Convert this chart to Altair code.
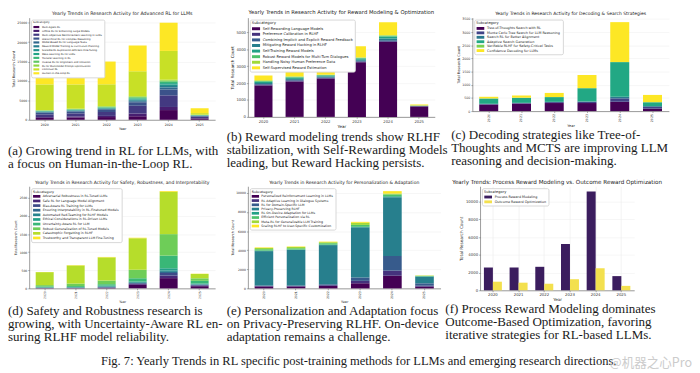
import altair as alt
import pandas as pd

YEARS = ["2020", "2021", "2022", "2023", "2024", "2025"]

A_TITLE = "Yearly Trends in Research Activity for Advanced RL for LLMs"
A_CATS = [
    "Multi-Agent RL",
    "Offline RL for Enhancing Large Models",
    "Multi-Objective Reinforcement Learning in LLMs",
    "Hierarchical RL for Complex Reasoning",
    "Model-Based RL for Language Tasks",
    "Reward Model Training & Curriculum Planning",
    "Scalable RL Exploration-Efficient Fine-Tuning",
    "Meta-Learning RL for LLMs",
    "Transfer Learning in RL",
    "Inverse RL for Alignment and Imitation",
    "RL for Multimodal Prompt Optimization",
    "Continual RL",
    "Human-in-the-Loop RL",
]
A_VALUES = [
    [500, 600, 700, 900, 2500, 300],
    [200, 250, 300, 700, 800, 150],
    [700, 800, 1000, 2000, 3000, 350],
    [400, 450, 550, 900, 1500, 150],
    [150, 160, 200, 300, 500, 60],
    [100, 110, 130, 200, 400, 50],
    [100, 110, 130, 250, 400, 50],
    [80, 90, 100, 200, 350, 40],
    [90, 100, 120, 250, 350, 50],
    [80, 90, 110, 180, 270, 40],
    [70, 100, 175, 150, 240, 80],
    [6640, 6250, 5625, 6480, 7420, 400],
    [4690, 5390, 5860, 6640, 7270, 1250],
]

B_TITLE = "Yearly Trends in Research Activity for Reward Modeling & Optimization"
B_CATS = [
    "Self-Rewarding Language Models",
    "Preference Calibration in RLHF",
    "Combining Implicit and Explicit Reward Feedback",
    "Mitigating Reward Hacking in RLHF",
    "Self-Training Reward Models",
    "Robust Reward Models for Multi-Turn Dialogues",
    "Handling Noisy Human Preference Data",
    "Self-Supervised Reward Estimation",
]
B_VALUES = [
    [1860, 2093, 2267, 3236, 4438, 620],
    [40, 50, 40, 40, 50, 10],
    [50, 50, 40, 50, 60, 10],
    [60, 60, 50, 60, 90, 10],
    [70, 80, 60, 80, 120, 15],
    [50, 40, 30, 40, 60, 10],
    [40, 30, 12, 20, 27, 5],
    [290, 465, 407, 660, 756, 56],
]

C_TITLE = "Yearly Trends in Research Activity for Decoding & Search Strategies"
C_CATS = [
    "Tree-of-Thoughts Search with RL",
    "Monte Carlo Tree Search for LLM Reasoning",
    "Search RL for Better Alignment",
    "Adaptive Search Generation",
    "Verifiable RLHF for Safety-Critical Tasks",
    "Confidence Decoding for LLMs",
]
C_VALUES = [
    [248, 284, 307, 307, 355, 95],
    [20, 20, 35, 47, 130, 70],
    [10, 10, 10, 15, 60, 30],
    [200, 190, 180, 500, 1316, 140],
    [6, 6, 5, 6, 6, 8],
    [60, 83, 154, 496, 1513, 272],
]

D_TITLE = "Yearly Trends in Research Activity for Safety, Robustness, and Interpretability"
D_CATS = [
    "Adversarial Robustness in RL-Tuned LLMs",
    "Safe RL for Language Model Alignment",
    "Bias-Aware RL Training for LLMs",
    "Ensuring Interpretability in RL-Finetuned Models",
    "Automated Red-Teaming for RLHF Models",
    "Ethical Considerations in RL-Driven LLMs",
    "Uncertainty-Aware RL for LLM",
    "Robust Generalization of RL-Tuned Models",
    "Catastrophic Forgetting in RLHF",
    "Trustworthy and Transparent LLM Fine-Tuning",
]
D_VALUES = [
    [5, 5, 10, 100, 283, 60],
    [5, 5, 10, 20, 70, 20],
    [5, 5, 10, 20, 72, 14],
    [5, 5, 10, 10, 30, 10],
    [5, 8, 15, 17, 40, 10],
    [10, 10, 20, 20, 60, 20],
    [20, 25, 40, 94, 349, 74],
    [35, 69, 100, 236, 594, 70],
    [358, 500, 641, 870, 1171, 120],
    [5, 10, 12, 9, 20, 7],
]

E_TITLE = "Yearly Trends in Research Activity for Personalization & Adaptation"
E_CATS = [
    "Personalized Reinforcement Learning in LLMs",
    "RL Adaptive Learning in Dialogue Systems",
    "RL for Domain-Specific LLM",
    "Privacy-Preserving RLHF",
    "RL On-Device Adaptation for LLMs",
    "Efficient Personalization via RL",
    "Meta-RL for Generalizable LLM Training",
    "Scaling RLHF to User-Specific Customization",
]
E_VALUES = [
    [200, 200, 250, 536, 1321, 179],
    [50, 50, 80, 250, 536, 100],
    [50, 60, 100, 357, 1536, 250],
    [3600, 3700, 4100, 5250, 6150, 700],
    [50, 50, 50, 50, 100, 30],
    [150, 150, 150, 200, 200, 50],
    [126, 123, 103, 221, 85, 28],
    [60, 60, 60, 100, 250, 20],
]

F_TITLE = "Yearly Trends: Process Reward Modeling vs. Outcome Reward Optimization"
F_CATS = ["Process Reward Modeling", "Outcome Reward Optimization"]
F_VALUES = [
    [2570, 2560, 2650, 5220, 11150, 1600],
    [970, 860, 740, 1250, 2500, 500],
]

CAP_A = ["(a) Growing trend in RL for LLMs, with", "a focus on Human-in-the-Loop RL."]
CAP_B = ["(b) Reward modeling trends show RLHF", "stabilization, with Self-Rewarding Models",
         "leading, but Reward Hacking persists."]
CAP_C = ["(c) Decoding strategies like Tree-of-", "Thoughts and MCTS are improving LLM",
         "reasoning and decision-making."]
CAP_D = ["(d) Safety and Robustness research is", "growing, with Uncertainty-Aware RL en-",
         "suring RLHF model reliability."]
CAP_E = ["(e) Personalization and Adaptation focus", "on Privacy-Preserving RLHF. On-device",
         "adaptation remains a challenge."]
CAP_F = ["(f) Process Reward Modeling dominates", "Outcome-Based Optimization, favoring",
         "iterative strategies for RL-based LLMs."]
FIG_CAPTION = "Fig. 7: Yearly Trends in RL specific post-training methods for LLMs and emerging research directions."
WATERMARK = "@机器之心Pro"

VIRIDIS_STOPS = ["#440154", "#482475", "#414487", "#355f8d", "#2a788e", "#21918c",
                 "#22a884", "#44bf70", "#7ad151", "#bddf26", "#fde725"]


def viridis(n):
    def hx(c):
        return [int(c[i:i + 2], 16) for i in (1, 3, 5)]
    out = []
    for k in range(n):
        t = k / (n - 1) if n > 1 else 0
        p = t * (len(VIRIDIS_STOPS) - 1)
        i = min(int(p), len(VIRIDIS_STOPS) - 2)
        f = p - i
        a, b = hx(VIRIDIS_STOPS[i]), hx(VIRIDIS_STOPS[i + 1])
        out.append("#%02x%02x%02x" % tuple(round(a[j] + (b[j] - a[j]) * f) for j in range(3)))
    return out


SANS = "DejaVu Sans"
SERIF = "Liberation Serif"
RECT = "M-3,-0.7L0.8,-0.7L0.8,0.7L-3,0.7Z"


def indep(c):
    return c.resolve_scale(color="independent").resolve_legend(color="independent")


def to_df(cats, values, key):
    rows = []
    for i, c in enumerate(cats):
        for j, yr in enumerate(YEARS):
            rows.append({"Year_" + key: yr, "Sub_" + key: c, "count_" + key: values[i][j], "idx": i})
    return pd.DataFrame(rows)


def axes(s, ymax, step, rotate, xgrid=False):
    xa = alt.Axis(title="Year", labelAngle=270 if rotate else 0, labelFontSize=4 * s,
                  titleFontSize=4.4 * s, labelFont=SANS, titleFont=SANS, titleFontWeight="normal",
                  tickSize=1.5, labelPadding=1, titlePadding=1.5, domainColor="#555",
                  tickColor="#555", labelColor="#333", titleColor="#222", domainWidth=0.6,
                  tickWidth=0.5, grid=xgrid, gridColor="#e6e6e6", gridWidth=0.5, bandPosition=0.5)
    ya = alt.Axis(title="Total Research Count", values=list(range(0, ymax + 1, step)), format="d",
                  labelFontSize=4 * s, titleFontSize=4.4 * s, labelFont=SANS, titleFont=SANS,
                  titleFontWeight="normal", tickSize=1.5, labelPadding=1, titlePadding=1.5,
                  domainColor="#555", tickColor="#555", labelColor="#333", titleColor="#222",
                  domainWidth=0.6, tickWidth=0.5, grid=True, gridColor="#ececec", gridWidth=0.5)
    return xa, ya


def legend(fs, rp, sym):
    return alt.Legend(title="Subcategory", orient="top-left", offset=2, padding=2,
                      titleFontSize=fs * 1.05, labelFontSize=fs, titleFont=SANS, labelFont=SANS,
                      titleFontWeight="normal", titlePadding=1,
                      symbolType=RECT, symbolSize=sym * sym, symbolStrokeWidth=0,
                      symbolOffset=sym, rowPadding=rp, labelOffset=2, fillColor="white",
                      strokeColor="#d6d6d6", cornerRadius=1.5,
                      labelColor="#222", titleColor="#222")


def title_params(text, fs):
    return alt.TitleParams(text, fontSize=fs, font=SANS, fontWeight="normal", color="#222",
                           offset=2, frame="group")


def stacked(key, title, tfs, cats, values, ymax, step, dmax, w, h, s, rotate, lfs, lrp, sym):
    df = to_df(cats, values, key)
    xa, ya = axes(s, ymax, step, rotate)
    return alt.Chart(df).mark_bar().encode(
        x=alt.X("Year_%s:N" % key, sort=YEARS, scale=alt.Scale(paddingInner=0.42, paddingOuter=0.21), axis=xa),
        y=alt.Y("sum(count_%s):Q" % key, stack="zero", scale=alt.Scale(domain=[0, dmax], nice=False), axis=ya),
        color=alt.Color("Sub_%s:N" % key, sort=cats,
                        scale=alt.Scale(domain=cats, range=viridis(len(cats))),
                        legend=legend(lfs, lrp, sym)),
        order=alt.Order("idx:Q", sort="ascending"),
    ).properties(width=w, height=h, title=title_params(title, tfs))


def grouped(key, title, tfs, cats, values, ymax, step, dmax, w, h, s, lfs, lrp, sym):
    df = to_df(cats, values, key)
    xa, ya = axes(s, ymax, step, False, xgrid=True)
    return alt.Chart(df).mark_bar().encode(
        x=alt.X("Year_%s:N" % key, sort=YEARS, scale=alt.Scale(paddingInner=0.3, paddingOuter=0.15), axis=xa),
        xOffset=alt.XOffset("Sub_%s:N" % key, sort=cats),
        y=alt.Y("count_%s:Q" % key, scale=alt.Scale(domain=[0, dmax], nice=False), axis=ya),
        color=alt.Color("Sub_%s:N" % key, sort=cats,
                        scale=alt.Scale(domain=cats, range=["#3b1d5e", "#f3e04e"]),
                        legend=legend(lfs, lrp, sym)),
    ).properties(width=w, height=h, title=title_params(title, tfs))


LH = 13.3
CW = 224


def caption(key, lines, indent):
    df = pd.DataFrame({"cap_" + key: ["\n".join(lines)]})
    text = alt.Chart(df).mark_text(lineBreak="\n", align="left", baseline="top", font=SERIF,
                                   fontSize=13.5, lineHeight=LH, color="#1a1a1a").encode(
        x=alt.value(-indent), y=alt.value((3 - len(lines)) * LH), text="cap_%s:N" % key)
    spacer = alt.Chart(df).mark_rule(opacity=0).encode(
        x=alt.value(-indent), x2=alt.value(CW - indent), y=alt.value(1))
    return alt.layer(spacer, text).properties(width=CW - indent - 30, height=3 * LH)


pa = indep(alt.vconcat(stacked("a", A_TITLE, 4.9, A_CATS, A_VALUES, 25000, 5000, 26300, 193, 106, 0.82, False, 2.6, 0.0, 3.2),
                       caption("a", CAP_A, 22), spacing=1))
pb = indep(alt.vconcat(stacked("b", B_TITLE, 5.5, B_CATS, B_VALUES, 5000, 1000, 5880, 194, 103, 0.97, False, 3.8, 0.8, 4.4),
                       caption("b", CAP_B, 22), spacing=1))
pc = indep(alt.vconcat(stacked("c", C_TITLE, 4.65, C_CATS, C_VALUES, 3500, 500, 3550, 204, 97, 0.84, True, 3.5, 0.6, 4.2),
                       caption("c", CAP_C, 22), spacing=1))
pd_ = indep(alt.vconcat(stacked("d", D_TITLE, 4.7, D_CATS, D_VALUES, 2500, 500, 2820, 193, 106, 0.78, True, 3.3, 0.8, 4),
                        caption("d", CAP_D, 22), spacing=1))
pe = indep(alt.vconcat(stacked("e", E_TITLE, 4.7, E_CATS, E_VALUES, 10000, 2000, 10690, 200, 106, 0.8, True, 3.3, 0.4, 4),
                       caption("e", CAP_E, 22), spacing=1))
pf = indep(alt.vconcat(grouped("f", F_TITLE, 5.85, F_CATS, F_VALUES, 10000, 2000, 11735, 160, 108, 1.0, 3.5, 1.0, 4.2),
                       caption("f", CAP_F, 36), spacing=1))

row1 = indep(alt.hconcat(pa, pb, pc, spacing=3))
row2 = indep(alt.hconcat(pd_, pe, pf, spacing=3))

figcap_df = pd.DataFrame({"figtext": [FIG_CAPTION], "wm": [WATERMARK]})
figcap = alt.layer(
    alt.Chart(figcap_df).mark_text(font=SERIF, fontSize=13, align="center", baseline="middle",
                                   color="#1a1a1a").encode(x=alt.value(342), y=alt.value(10), text="figtext:N"),
    alt.Chart(figcap_df).mark_text(font="Noto Sans CJK SC", fontSize=13, align="right", baseline="middle",
                                   color="#cccccc").encode(x=alt.value(688), y=alt.value(12), text="wm:N"),
).properties(width=684, height=20)

base = indep(alt.vconcat(row1, row2, figcap, spacing=8))
try:
    chart = base.properties(padding={"left": 0, "top": -5, "right": 0, "bottom": 0}).configure(
        background="white").configure_view(stroke=None)
    chart.to_dict()
except Exception:
    chart = base.properties(padding={"left": 0, "top": 0, "right": 0, "bottom": 0}).configure(
        background="white").configure_view(stroke=None)

chart.save("out.html", embed_options={"renderer": "svg", "actions": False})
